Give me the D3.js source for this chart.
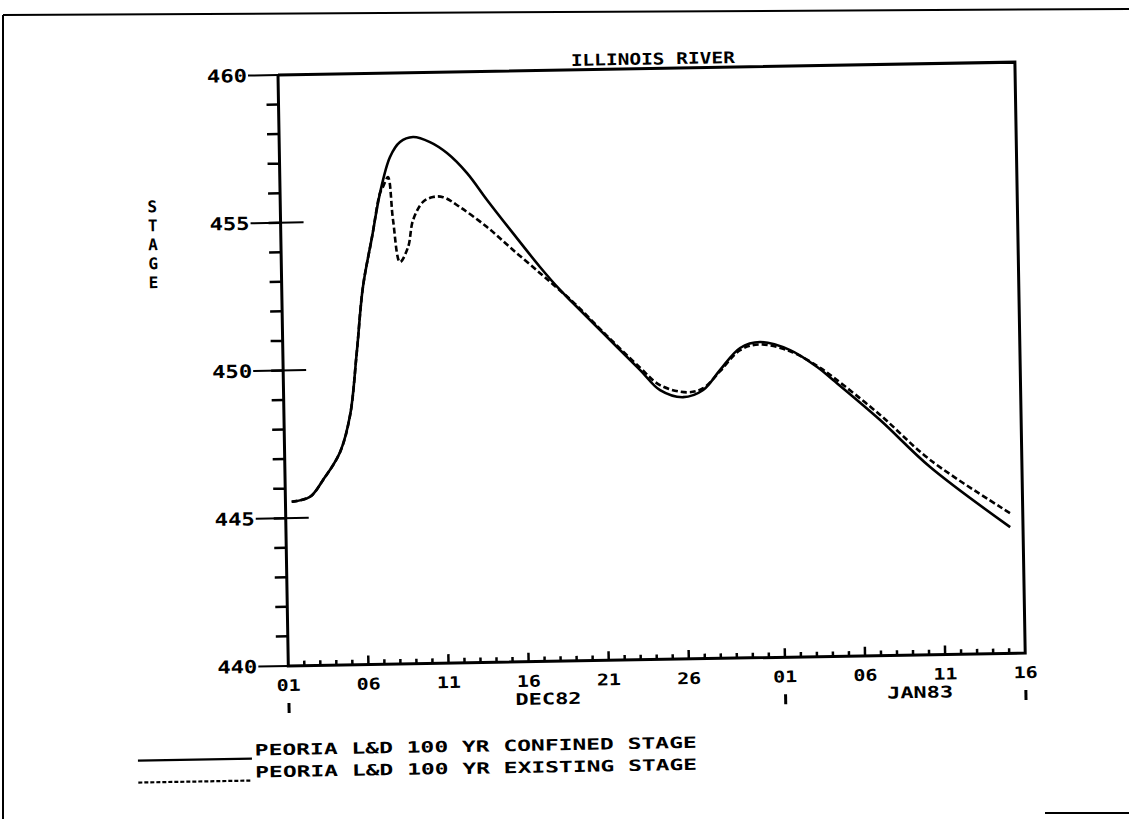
<!DOCTYPE html>
<html><head><meta charset="utf-8">
<script src="https://cdn.jsdelivr.net/npm/d3@7/dist/d3.min.js"></script>
<style>body{margin:0;background:#fff}svg{display:block}</style>
</head><body>
<svg id="chart" width="1129" height="819"></svg>
<script>
// ---------- data ----------
const title = "ILLINOIS RIVER";
const yLabel = "STAGE";
const yMajorTicks = [440, 445, 450, 455, 460];
const yTickLabels = ["440", "445", "450", "455", "460"];
const xTickDays = [0, 5, 10, 15, 20, 25, 31, 36, 41, 46];
const xTickLabels = ["01", "06", "11", "16", "21", "26", "01", "06", "11", "16"];
const monthMarkDays = [0, 31, 46];
const monthLabels = ["DEC82", "JAN83"];
const monthLabelDays = [16.2, 39.4];
const seriesNames = ["PEORIA L&D 100 YR CONFINED STAGE", "PEORIA L&D 100 YR EXISTING STAGE"];

const confinedDays = [0.39, 1.54, 2.37, 3.46, 4.13, 4.61, 5.07, 5.69, 6.24, 6.90, 7.54, 8.36, 9.41, 10.46, 11.69, 12.91, 14.49, 16.14, 17.37, 18.16, 20.25, 22.28, 23.50, 24.93, 26.19, 27.27, 28.54, 29.79, 31.66, 33.33, 34.31, 37.20, 40.27, 45.20];
const confinedStage = [445.55, 445.71, 446.27, 447.20, 448.45, 450.55, 452.78, 454.46, 455.95, 457.16, 457.66, 457.82, 457.64, 457.26, 456.57, 455.65, 454.51, 453.35, 452.56, 452.11, 450.94, 449.80, 449.11, 448.86, 449.09, 449.76, 450.49, 450.68, 450.39, 449.80, 449.35, 447.97, 446.35, 444.27];

const existingDays = [0.39, 1.54, 2.37, 3.46, 4.13, 4.61, 5.07, 5.69, 6.24, 6.43, 6.75, 7.02, 7.41, 7.93, 8.27, 8.91, 9.54, 10.17, 11.22, 12.88, 14.48, 16.14, 17.18, 18.16, 20.25, 22.28, 23.50, 25.19, 26.19, 27.27, 28.54, 29.79, 31.66, 33.33, 34.31, 37.21, 40.28, 45.22];
const existingStage = [445.55, 445.71, 446.27, 447.20, 448.45, 450.55, 452.78, 454.46, 455.95, 456.15, 456.48, 455.03, 453.60, 454.10, 455.01, 455.62, 455.78, 455.77, 455.42, 454.73, 453.94, 453.14, 452.63, 452.15, 450.98, 449.88, 449.28, 449.02, 449.15, 449.72, 450.42, 450.60, 450.35, 449.84, 449.45, 448.14, 446.59, 444.74];

// ---------- layout ----------
const L = 278, T = 75, W = 737, H = 591, B = T + H;
const FONT = "'DejaVu Sans Mono', monospace";
const svg = d3.select("#chart");

// page frame (scan edges)
svg.append("line").attr("x1", 3).attr("y1", 15).attr("x2", 1129).attr("y2", 9).attr("stroke", "#000").attr("stroke-width", 2);
svg.append("line").attr("x1", 3).attr("y1", 15).attr("x2", 3).attr("y2", 819).attr("stroke", "#000").attr("stroke-width", 2);
svg.append("line").attr("x1", 1045).attr("y1", 813).attr("x2", 1129).attr("y2", 813).attr("stroke", "#000").attr("stroke-width", 2);

const g = svg.append("g").attr("transform", `rotate(-1, ${L}, ${T})`);

const x = d3.scaleLinear().domain([0, 46]).range([L, L + W]);
const y = d3.scaleLinear().domain([440, 460]).range([B, T]);

// frame: axes + top/right border
g.append("path")
  .attr("d", `M${L},${T}V${B}H${L + W}V${T}H${L}`)
  .attr("fill", "none").attr("stroke", "#000").attr("stroke-width", 3);

// y minor ticks
g.selectAll(".yminor").data(d3.range(441, 460)).enter().append("line")
  .attr("x1", L - 12).attr("x2", L).attr("y1", d => y(d)).attr("y2", d => y(d))
  .attr("stroke", "#000").attr("stroke-width", 2.5);
// y major ticks
g.selectAll(".ymajor").data(yMajorTicks).enter().append("line")
  .attr("x1", L - 30)
  .attr("x2", d => (d === 440 || d === 460) ? L : L + 23)
  .attr("y1", d => y(d)).attr("y2", d => y(d))
  .attr("stroke", "#000").attr("stroke-width", 2);
g.selectAll(".ylab").data(yMajorTicks).enter().append("text")
  .attr("x", L - 31).attr("y", d => y(d) + 6.5)
  .attr("text-anchor", "end")
  .attr("font-family", FONT).attr("font-weight", "bold").attr("font-size", 18)
  .attr("textLength", 40).attr("lengthAdjust", "spacingAndGlyphs")
  .text((d, i) => yTickLabels[i]);

// x ticks (daily, inward)
g.selectAll(".xtick").data(d3.range(1, 46)).enter().append("line")
  .attr("x1", d => x(d)).attr("x2", d => x(d))
  .attr("y1", B).attr("y2", d => xTickDays.includes(d) ? B - 9 : B - 5)
  .attr("stroke", "#000").attr("stroke-width", 2.5);
g.selectAll(".xlab").data(xTickDays).enter().append("text")
  .attr("x", d => x(d)).attr("y", B + 25)
  .attr("text-anchor", "middle")
  .attr("font-family", FONT).attr("font-weight", "bold").attr("font-size", 16)
  .attr("textLength", 24).attr("lengthAdjust", "spacingAndGlyphs")
  .text((d, i) => xTickLabels[i]);
g.selectAll(".mmark").data(monthMarkDays).enter().append("line")
  .attr("x1", d => x(d)).attr("x2", d => x(d))
  .attr("y1", B + 37).attr("y2", B + 47)
  .attr("stroke", "#000").attr("stroke-width", 3);
g.selectAll(".mlab").data(monthLabelDays).enter().append("text")
  .attr("x", d => x(d)).attr("y", B + 43)
  .attr("text-anchor", "middle")
  .attr("font-family", FONT).attr("font-weight", "bold").attr("font-size", 16)
  .attr("textLength", 66).attr("lengthAdjust", "spacingAndGlyphs")
  .text((d, i) => monthLabels[i]);

// title
g.append("text").attr("x", L + 375).attr("y", T - 4)
  .attr("text-anchor", "middle")
  .attr("font-family", FONT).attr("font-weight", "bold").attr("font-size", 16)
  .attr("textLength", 164).attr("lengthAdjust", "spacingAndGlyphs")
  .text(title);

// y label stacked
g.selectAll(".ylet").data(yLabel.split("")).enter().append("text")
  .attr("x", 150).attr("y", (d, i) => 210 + i * 19)
  .attr("text-anchor", "middle")
  .attr("font-family", FONT).attr("font-weight", "bold").attr("font-size", 16)
  .text(d => d);

// lines
const line = d3.line().x(d => x(d[0])).y(d => y(d[1])).curve(d3.curveCatmullRom.alpha(0.5));
const confined = confinedDays.map((d, i) => [d, confinedStage[i]]);
const existing = existingDays.map((d, i) => [d, existingStage[i]]);
g.append("path").datum(existing).attr("d", line)
  .attr("fill", "none").attr("stroke", "#000").attr("stroke-width", 2.6)
  .attr("stroke-dasharray", "6,3");
g.append("path").datum(confined).attr("d", line)
  .attr("fill", "none").attr("stroke", "#000").attr("stroke-width", 2.6);

// legend
const legY = [755, 777];
const legDash = [null, "4,2"];
seriesNames.forEach((name, i) => {
  g.append("line").attr("x1", 126).attr("x2", 240)
    .attr("y1", legY[i] + 3).attr("y2", legY[i] + 3)
    .attr("stroke", "#000").attr("stroke-width", 2.2)
    .attr("stroke-dasharray", legDash[i]);
  g.append("text").attr("x", 243).attr("y", legY[i])
    .attr("font-family", FONT).attr("font-weight", "bold").attr("font-size", 15.5)
    .attr("textLength", 442).attr("lengthAdjust", "spacingAndGlyphs")
    .text(name);
});
</script>
</body></html>
